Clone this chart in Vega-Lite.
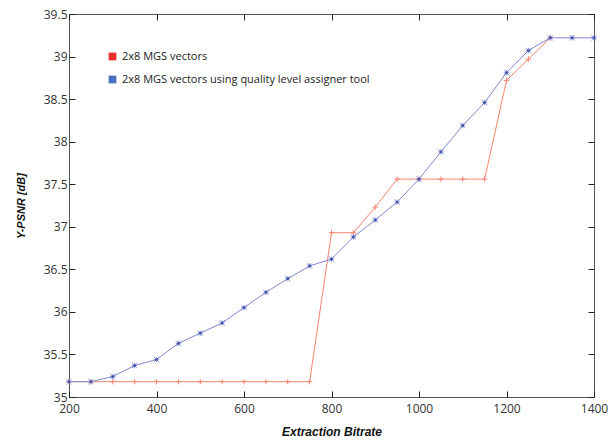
{
  "$schema": "https://vega.github.io/schema/vega-lite/v6.json",
  "width": 525,
  "height": 383,
  "autosize": "none",
  "padding": {"left": 69, "top": 14, "right": 22, "bottom": 43},
  "background": "white",
  "config": {
    "view": {"stroke": "#555", "strokeWidth": 1},
    "font": "Open Sans",
    "axis": {"domain": false, "grid": false, "zindex": 1, "labelFlush": false, "labelColor": "#333", "labelFontSize": 12, "labelFont": "Open Sans", "titleFont": "Liberation Sans", "titleFontSize": 11, "titleFontStyle": "italic", "titleFontWeight": "bold", "titleColor": "#111"}
  },
  "data": {"values": [
    {"bitrate": 200, "psnr": 35.18, "series": "2x8 MGS vectors"},
    {"bitrate": 250, "psnr": 35.18, "series": "2x8 MGS vectors"},
    {"bitrate": 300, "psnr": 35.18, "series": "2x8 MGS vectors"},
    {"bitrate": 350, "psnr": 35.18, "series": "2x8 MGS vectors"},
    {"bitrate": 400, "psnr": 35.18, "series": "2x8 MGS vectors"},
    {"bitrate": 450, "psnr": 35.18, "series": "2x8 MGS vectors"},
    {"bitrate": 500, "psnr": 35.18, "series": "2x8 MGS vectors"},
    {"bitrate": 550, "psnr": 35.18, "series": "2x8 MGS vectors"},
    {"bitrate": 600, "psnr": 35.18, "series": "2x8 MGS vectors"},
    {"bitrate": 650, "psnr": 35.18, "series": "2x8 MGS vectors"},
    {"bitrate": 700, "psnr": 35.18, "series": "2x8 MGS vectors"},
    {"bitrate": 750, "psnr": 35.18, "series": "2x8 MGS vectors"},
    {"bitrate": 800, "psnr": 36.93, "series": "2x8 MGS vectors"},
    {"bitrate": 850, "psnr": 36.93, "series": "2x8 MGS vectors"},
    {"bitrate": 900, "psnr": 37.23, "series": "2x8 MGS vectors"},
    {"bitrate": 950, "psnr": 37.56, "series": "2x8 MGS vectors"},
    {"bitrate": 1000, "psnr": 37.56, "series": "2x8 MGS vectors"},
    {"bitrate": 1050, "psnr": 37.56, "series": "2x8 MGS vectors"},
    {"bitrate": 1100, "psnr": 37.56, "series": "2x8 MGS vectors"},
    {"bitrate": 1150, "psnr": 37.56, "series": "2x8 MGS vectors"},
    {"bitrate": 1200, "psnr": 38.72, "series": "2x8 MGS vectors"},
    {"bitrate": 1250, "psnr": 38.97, "series": "2x8 MGS vectors"},
    {"bitrate": 1300, "psnr": 39.22, "series": "2x8 MGS vectors"},
    {"bitrate": 200, "psnr": 35.18, "series": "2x8 MGS vectors using quality level assigner tool"},
    {"bitrate": 250, "psnr": 35.18, "series": "2x8 MGS vectors using quality level assigner tool"},
    {"bitrate": 300, "psnr": 35.24, "series": "2x8 MGS vectors using quality level assigner tool"},
    {"bitrate": 350, "psnr": 35.37, "series": "2x8 MGS vectors using quality level assigner tool"},
    {"bitrate": 400, "psnr": 35.44, "series": "2x8 MGS vectors using quality level assigner tool"},
    {"bitrate": 450, "psnr": 35.63, "series": "2x8 MGS vectors using quality level assigner tool"},
    {"bitrate": 500, "psnr": 35.75, "series": "2x8 MGS vectors using quality level assigner tool"},
    {"bitrate": 550, "psnr": 35.87, "series": "2x8 MGS vectors using quality level assigner tool"},
    {"bitrate": 600, "psnr": 36.05, "series": "2x8 MGS vectors using quality level assigner tool"},
    {"bitrate": 650, "psnr": 36.23, "series": "2x8 MGS vectors using quality level assigner tool"},
    {"bitrate": 700, "psnr": 36.39, "series": "2x8 MGS vectors using quality level assigner tool"},
    {"bitrate": 750, "psnr": 36.54, "series": "2x8 MGS vectors using quality level assigner tool"},
    {"bitrate": 800, "psnr": 36.62, "series": "2x8 MGS vectors using quality level assigner tool"},
    {"bitrate": 850, "psnr": 36.88, "series": "2x8 MGS vectors using quality level assigner tool"},
    {"bitrate": 900, "psnr": 37.08, "series": "2x8 MGS vectors using quality level assigner tool"},
    {"bitrate": 950, "psnr": 37.29, "series": "2x8 MGS vectors using quality level assigner tool"},
    {"bitrate": 1000, "psnr": 37.56, "series": "2x8 MGS vectors using quality level assigner tool"},
    {"bitrate": 1050, "psnr": 37.88, "series": "2x8 MGS vectors using quality level assigner tool"},
    {"bitrate": 1100, "psnr": 38.19, "series": "2x8 MGS vectors using quality level assigner tool"},
    {"bitrate": 1150, "psnr": 38.46, "series": "2x8 MGS vectors using quality level assigner tool"},
    {"bitrate": 1200, "psnr": 38.81, "series": "2x8 MGS vectors using quality level assigner tool"},
    {"bitrate": 1250, "psnr": 39.07, "series": "2x8 MGS vectors using quality level assigner tool"},
    {"bitrate": 1300, "psnr": 39.22, "series": "2x8 MGS vectors using quality level assigner tool"},
    {"bitrate": 1350, "psnr": 39.22, "series": "2x8 MGS vectors using quality level assigner tool"},
    {"bitrate": 1400, "psnr": 39.22, "series": "2x8 MGS vectors using quality level assigner tool"}
  ]},
  "encoding": {
    "color": {"field": "series", "type": "nominal",
      "scale": {"domain": ["2x8 MGS vectors", "2x8 MGS vectors using quality level assigner tool"], "range": ["#f7836f", "#8088d0"]},
      "legend": {"title": null, "orient": "none", "legendX": 38, "legendY": 37, "symbolType": "square", "symbolSize": 60, "labelFontSize": 11, "labelFont": "Open Sans", "labelColor": "#222", "rowPadding": 11, "padding": 0, "symbolStrokeWidth": 0, "labelLimit": 400,
        "encode": {"symbols": {"update": {"fill": {"signal": "datum.label === '2x8 MGS vectors' ? '#e8302a' : '#4a6fc0'"}, "stroke": {"value": "transparent"}}}}}
    }
  },
  "layer": [
    {"mark": {"type": "line", "strokeWidth": 1},
      "encoding": {
        "x": {"field": "bitrate", "type": "quantitative", "scale": {"domain": [200, 1400], "nice": false, "zero": false},
          "axis": {"orient": "bottom", "title": "Extraction Bitrate", "tickCount": 6, "format": "d", "ticks": true, "tickColor": "#222", "tickOpacity": 1, "tickSize": 6, "tickWidth": 1, "offset": -6, "labelPadding": 6, "titlePadding": 12, "titleFontSize": 12}},
        "y": {"field": "psnr", "type": "quantitative", "scale": {"domain": [35, 39.5], "nice": false, "zero": false},
          "axis": {"orient": "left", "title": "Y-PSNR [dB]", "tickCount": 9, "format": "~f", "ticks": true, "tickColor": "#222", "tickOpacity": 1, "tickSize": 6, "tickWidth": 1, "offset": -6, "labelPadding": 2, "titlePadding": 17}}
      }},
    {"mark": {"type": "point", "shape": "M-1,0L1,0M0,-1L0,1", "filled": false, "size": 30, "strokeWidth": 1, "opacity": 1},
      "transform": [{"filter": "datum.series === '2x8 MGS vectors'"}],
      "encoding": {
        "x": {"field": "bitrate", "type": "quantitative", "axis": null},
        "y": {"field": "psnr", "type": "quantitative", "axis": null}
      }},
    {"mark": {"type": "point", "shape": "M-1,-1L1,1M-1,1L1,-1M0,-1L0,1M-1,0L1,0", "filled": false, "size": 30, "strokeWidth": 1, "opacity": 0.8},
      "transform": [{"filter": "datum.series !== '2x8 MGS vectors'"}],
      "encoding": {
        "x": {"field": "bitrate", "type": "quantitative", "axis": null},
        "y": {"field": "psnr", "type": "quantitative", "axis": null}
      }},
    {"mark": {"type": "point", "shape": "square", "filled": true, "size": 6, "opacity": 1},
      "transform": [{"filter": "datum.series !== '2x8 MGS vectors'"}],
      "encoding": {
        "x": {"field": "bitrate", "type": "quantitative", "axis": null},
        "y": {"field": "psnr", "type": "quantitative", "axis": null},
        "color": {"value": "#3a50b0"}
      }},
    {"mark": {"type": "point", "opacity": 0},
      "encoding": {
        "color": {"value": "white"},
        "x": {"field": "bitrate", "type": "quantitative", "axis": {"orient": "top", "title": null, "labels": false, "ticks": true, "tickColor": "#222", "tickOpacity": 1, "tickSize": 6, "tickWidth": 1, "offset": -6, "tickCount": 6}},
        "y": {"field": "psnr", "type": "quantitative", "axis": {"orient": "right", "title": null, "labels": false, "ticks": true, "tickColor": "#222", "tickOpacity": 1, "tickSize": 6, "tickWidth": 1, "offset": -6, "tickCount": 9}}
      }}
  ],
  "resolve": {"axis": {"x": "independent", "y": "independent"}}
}
